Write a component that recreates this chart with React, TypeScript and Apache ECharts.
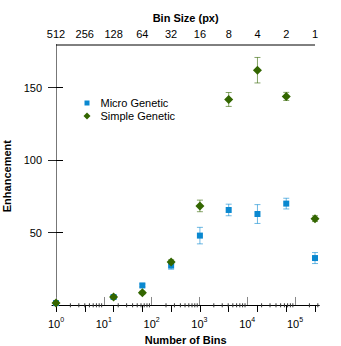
import React, { useEffect, useRef } from "react";
import * as echarts from "echarts";

const bins = [1, 16, 64, 256, 1024, 4096, 16384, 65536, 262144];
const microValues = [1.3, 5.5, 13.5, 27.2, 47.9, 65.6, 62.8, 70.0, 32.4];
const microErrors = [0.5, 1.0, 1.0, 2.5, 5.7, 4.0, 6.5, 3.7, 3.8];
const simpleValues = [1.3, 5.5, 8.5, 29.7, 68.4, 141.9, 162.1, 144.0, 59.6];
const simpleErrors = [0.5, 0.8, 1.0, 1.5, 4.0, 4.8, 8.8, 2.8, 2.0];
const binSizes = [512, 256, 128, 64, 32, 16, 8, 4, 2, 1];
const decades = [0, 1, 2, 3, 4, 5];
const yTicks = [50, 100, 150];

const X_MIN = -0.084;
const X_MAX = 5.508;
const Y_MIN = -1.6;
const Y_MAX = 179.5;

const FONT = "'Liberation Sans', Arial, Helvetica, sans-serif";
const BLUE = "#0a88d0";
const GREEN = "#336600";

const sizeToLog = (s: number) => Math.log10(Math.pow(512 / s, 2));

export default function App() {
  const ref = useRef<HTMLDivElement>(null);
  useEffect(() => {
    if (!ref.current) return;
    const chart = echarts.init(ref.current, undefined, { renderer: "svg" });

    const minorTicks: number[] = [];
    decades.forEach((d) => {
      for (let k = 2; k <= 9; k++) {
        const v = d + Math.log10(k);
        if (v <= X_MAX) minorTicks.push(v);
      }
    });

    const errSeries = (name: string, vals: number[], errs: number[], color: string) => ({
      type: "custom",
      name,
      coordinateSystem: "cartesian2d",
      xAxisIndex: 0,
      yAxisIndex: 0,
      clip: false,
      silent: true,
      z: 1,
      data: bins.map((b, i) => [Math.log10(b), vals[i], errs[i]]),
      renderItem: (params: any, api: any) => {
        const x = api.value(0);
        const y = api.value(1);
        const e = api.value(2);
        const top = api.coord([x, y + e]);
        const bot = api.coord([x, y - e]);
        const w = 3;
        const style = { stroke: color, lineWidth: 1, opacity: 0.6 };
        return {
          type: "group",
          children: [
            { type: "line", shape: { x1: top[0], y1: top[1], x2: bot[0], y2: bot[1] }, style },
            { type: "line", shape: { x1: top[0] - w, y1: top[1], x2: top[0] + w, y2: top[1] }, style },
            { type: "line", shape: { x1: bot[0] - w, y1: bot[1], x2: bot[0] + w, y2: bot[1] }, style },
          ],
        };
      },
    });

    const option: any = {
      animation: false,
      textStyle: { fontFamily: FONT },
      grid: { left: 52, right: 21.7, top: 45, bottom: 38.7, containLabel: false, outerBoundsMode: "none" },
      legend: {
        orient: "vertical",
        left: 82.5,
        top: 97.5,
        padding: 0,
        itemGap: 2,
        itemWidth: 9,
        itemHeight: 9,
        textStyle: { fontFamily: FONT, fontSize: 11, color: "#000", padding: [0, 0, 0, 4] },
        data: [
          { name: "Micro Genetic", icon: "path://M0,0M2,2h5v5h-5zM9,9" },
          { name: "Simple Genetic", icon: "path://M0,0M4.5,1L8,4.5L4.5,8L1,4.5ZM9,9" },
        ],
      },
      xAxis: [
        {
          type: "value",
          position: "bottom",
          min: X_MIN,
          max: X_MAX,
          name: "Number of Bins",
          nameLocation: "middle",
          nameGap: 27,
          nameTextStyle: { fontFamily: FONT, fontSize: 11, fontWeight: "bold", color: "#000" },
          splitLine: { show: false },
          axisLine: { show: true, lineStyle: { color: "#000", width: 1 } },
          axisTick: {
            show: true,
            inside: true,
            length: 8,
            customValues: decades,
            lineStyle: { color: "#888" },
          },
          axisLabel: {
            customValues: decades,
            margin: 9,
            formatter: (v: number) => `{b|10}{s|${Math.round(v)}}`,
            rich: {
              b: { fontFamily: FONT, fontSize: 11, color: "#000", verticalAlign: "bottom" },
              s: { fontFamily: FONT, fontSize: 7, color: "#000", verticalAlign: "top", padding: [0, 0, 6, 0] },
            },
          },
        },
        {
          type: "value",
          position: "top",
          min: X_MIN,
          max: X_MAX,
          name: "Bin Size (px)",
          nameLocation: "middle",
          nameGap: 21,
          nameTextStyle: { fontFamily: FONT, fontSize: 11, fontWeight: "bold", color: "#000" },
          splitLine: { show: false },
          axisLine: { show: false },
          axisTick: {
            show: true,
            inside: true,
            length: 7,
            customValues: binSizes.map(sizeToLog),
            lineStyle: { color: "#000" },
          },
          axisLabel: {
            customValues: binSizes.map(sizeToLog),
            margin: 6,
            fontFamily: FONT,
            fontSize: 11,
            color: "#000",
            formatter: (v: number) => String(Math.round(512 / Math.pow(10, v / 2))),
          },
        },
      ],
      yAxis: [
        {
          type: "value",
          position: "left",
          min: Y_MIN,
          max: Y_MAX,
          name: "Enhancement",
          nameLocation: "middle",
          nameGap: 38,
          nameTextStyle: { fontFamily: FONT, fontSize: 11, fontWeight: "bold", color: "#000" },
          splitLine: { show: false },
          axisLine: { show: true, lineStyle: { color: "#000", width: 1 } },
          axisTick: { show: true, inside: true, length: 7, customValues: yTicks, lineStyle: { color: "#000" } },
          axisLabel: { customValues: yTicks, margin: 10, fontFamily: FONT, fontSize: 11, color: "#000" },
        },
        {
          type: "value",
          position: "right",
          min: Y_MIN,
          max: Y_MAX,
          splitLine: { show: false },
          axisLine: { show: true, lineStyle: { color: "#777", width: 1 } },
          axisTick: { show: true, inside: true, length: 8, customValues: yTicks, lineStyle: { color: "#222" } },
          axisLabel: { show: false },
        },
      ],
      series: [
        {
          type: "custom",
          name: "minorTicks",
          coordinateSystem: "cartesian2d",
          xAxisIndex: 0,
          yAxisIndex: 0,
          clip: false,
          silent: true,
          data: minorTicks.map((v) => [v, Y_MIN]),
          renderItem: (params: any, api: any) => {
            const p = api.coord([api.value(0), api.value(1)]);
            return {
              type: "line",
              shape: { x1: p[0], y1: p[1], x2: p[0], y2: p[1] - 4 },
              style: { stroke: "#333", lineWidth: 1 },
            };
          },
        },
        {
          type: "custom",
          name: "topLine",
          coordinateSystem: "cartesian2d",
          xAxisIndex: 0,
          yAxisIndex: 0,
          clip: false,
          silent: true,
          data: [[sizeToLog(binSizes[0]), sizeToLog(binSizes[binSizes.length - 1]), Y_MAX]],
          renderItem: (params: any, api: any) => {
            const a = api.coord([api.value(0), api.value(2)]);
            const b = api.coord([api.value(1), api.value(2)]);
            return {
              type: "line",
              shape: { x1: a[0], y1: a[1], x2: b[0], y2: b[1] },
              style: { stroke: "#000", lineWidth: 1 },
            };
          },
        },
        errSeries("Micro Genetic err", microValues, microErrors, BLUE),
        errSeries("Simple Genetic err", simpleValues, simpleErrors, GREEN),
        {
          type: "scatter",
          name: "Micro Genetic",
          symbol: "rect",
          symbolSize: 6,
          itemStyle: { color: BLUE, opacity: 1 },
          z: 3,
          data: bins.map((b, i) => [Math.log10(b), microValues[i]]),
        },
        {
          type: "scatter",
          name: "Simple Genetic",
          symbol: "diamond",
          symbolSize: 9,
          itemStyle: { color: GREEN, opacity: 1 },
          z: 4,
          data: bins.map((b, i) => [Math.log10(b), simpleValues[i]]),
        },
      ],
    };
    chart.setOption(option);
    return () => chart.dispose();
  }, []);
  return (
    <div
      ref={ref}
      style={{ position: "fixed", left: 0, top: 0, width: 341, height: 346, background: "#fff" }}
    />
  );
}
